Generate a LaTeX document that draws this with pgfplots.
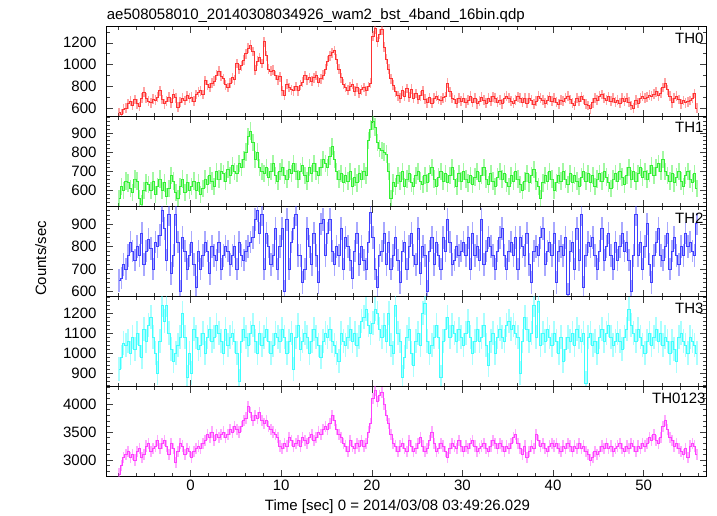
\documentclass[border=0pt]{standalone}
\usepackage{fontspec}
\setmainfont{Liberation Sans}
\usepackage{pgfplots}
\usepackage{pgfplotstable}
\pgfplotsset{compat=1.18}

\definecolor{cR}{RGB}{255,51,51}
\definecolor{cG}{RGB}{51,240,51}
\definecolor{cB}{RGB}{64,64,255}
\definecolor{cC}{RGB}{64,255,255}
\definecolor{cM}{RGB}{255,64,255}

% 0.25 s bins, first bin centre at -7.875 s
\pgfplotstableread[row sep=\\]{y\\
560\\545\\590\\600\\640\\665\\625\\680\\640\\615\\690\\745\\690\\665\\650\\685\\
675\\700\\760\\680\\640\\665\\700\\650\\730\\695\\610\\655\\690\\670\\715\\690\\
700\\665\\725\\745\\760\\725\\855\\815\\790\\830\\850\\905\\940\\895\\870\\815\\
790\\830\\880\\860\\1010\\960\\990\\1040\\1100\\1150\\1180\\1120\\950\\1030\\1065\\1010\\
1210\\1080\\960\\940\\950\\900\\860\\890\\760\\720\\820\\790\\770\\760\\800\\760\\
810\\840\\900\\860\\880\\850\\880\\900\\840\\870\\905\\960\\1030\\1080\\1110\\1130\\
1050\\960\\880\\820\\790\\765\\800\\820\\755\\790\\740\\770\\790\\760\\800\\830\\
1260\\1330\\1210\\1280\\1320\\1160\\1050\\960\\870\\810\\750\\715\\690\\760\\710\\780\\
700\\775\\690\\735\\680\\715\\760\\685\\650\\695\\645\\690\\710\\680\\670\\695\\
705\\830\\750\\690\\680\\645\\690\\665\\690\\650\\675\\710\\655\\690\\640\\665\\
700\\675\\645\\690\\665\\705\\690\\655\\675\\640\\690\\710\\690\\665\\645\\675\\
705\\690\\655\\690\\645\\690\\675\\635\\665\\710\\690\\675\\645\\675\\705\\665\\
690\\655\\635\\675\\665\\690\\710\\680\\645\\625\\690\\665\\705\\680\\635\\625\\
595\\650\\690\\675\\710\\725\\690\\675\\705\\665\\690\\655\\675\\645\\690\\665\\
690\\655\\625\\600\\675\\645\\690\\710\\690\\700\\720\\710\\730\\750\\715\\740\\
790\\830\\770\\710\\650\\690\\710\\680\\640\\670\\650\\660\\670\\690\\735\\600\\
}\thzero

\pgfplotstableread[row sep=\\]{y\\
560\\620\\600\\650\\640\\610\\590\\660\\650\\560\\530\\600\\640\\630\\600\\650\\
580\\620\\660\\600\\640\\570\\610\\680\\650\\590\\560\\620\\660\\590\\640\\600\\
620\\650\\600\\640\\580\\610\\660\\630\\680\\650\\620\\700\\660\\700\\690\\650\\
710\\680\\730\\700\\690\\740\\720\\760\\800\\880\\910\\850\\760\\800\\720\\700\\
690\\720\\670\\700\\740\\680\\650\\700\\720\\680\\660\\710\\690\\740\\700\\660\\
700\\730\\680\\650\\720\\690\\740\\700\\680\\720\\760\\740\\720\\780\\830\\760\\
700\\660\\690\\640\\680\\650\\700\\620\\670\\640\\690\\660\\700\\680\\860\\920\\
960\\930\\850\\820\\810\\800\\790\\700\\560\\640\\620\\680\\650\\700\\620\\660\\
690\\640\\620\\680\\700\\650\\630\\680\\640\\690\\720\\660\\620\\670\\700\\650\\
690\\640\\680\\720\\660\\620\\690\\650\\700\\660\\640\\680\\630\\670\\700\\650\\
680\\720\\660\\630\\690\\650\\620\\670\\700\\660\\690\\640\\620\\680\\650\\700\\
660\\630\\600\\650\\690\\640\\680\\710\\650\\620\\560\\640\\680\\650\\700\\660\\
600\\640\\680\\650\\700\\660\\630\\690\\640\\680\\650\\620\\670\\700\\650\\690\\
640\\680\\620\\660\\690\\650\\700\\670\\640\\610\\660\\690\\650\\700\\670\\630\\
680\\720\\660\\700\\650\\690\\720\\670\\700\\660\\690\\730\\680\\720\\740\\700\\
760\\700\\680\\650\\690\\640\\670\\700\\650\\620\\680\\700\\660\\640\\690\\610\\
}\thone

\pgfplotstableread[row sep=\\]{y\\
650\\660\\720\\700\\760\\820\\780\\740\\800\\760\\860\\720\\780\\830\\790\\700\\
820\\800\\850\\960\\880\\740\\940\\680\\760\\940\\820\\600\\840\\780\\700\\760\\
820\\720\\620\\780\\700\\760\\820\\780\\680\\800\\760\\740\\820\\700\\760\\800\\
780\\720\\760\\800\\700\\820\\760\\740\\780\\800\\820\\840\\920\\960\\860\\940\\
700\\860\\800\\720\\760\\880\\700\\800\\880\\600\\920\\700\\820\\880\\940\\760\\
760\\640\\700\\880\\800\\720\\860\\760\\640\\900\\920\\760\\860\\920\\780\\720\\
800\\760\\880\\700\\840\\800\\740\\660\\780\\860\\720\\800\\740\\700\\820\\950\\
840\\700\\620\\760\\780\\860\\720\\820\\700\\760\\840\\740\\640\\780\\820\\700\\
800\\860\\760\\720\\880\\680\\800\\760\\600\\780\\840\\720\\820\\760\\700\\840\\
780\\920\\820\\720\\740\\800\\760\\780\\820\\760\\840\\700\\860\\760\\800\\740\\
920\\720\\780\\840\\800\\760\\700\\780\\840\\880\\760\\700\\780\\820\\760\\840\\
700\\840\\800\\760\\860\\720\\640\\780\\800\\760\\840\\880\\720\\780\\820\\760\\
860\\640\\780\\800\\760\\840\\590\\780\\820\\700\\880\\740\\940\\620\\760\\820\\
800\\840\\760\\700\\780\\880\\740\\800\\860\\760\\700\\820\\740\\800\\860\\780\\
820\\740\\600\\760\\940\\760\\820\\700\\800\\900\\720\\640\\760\\820\\880\\760\\
740\\800\\860\\700\\780\\840\\760\\720\\800\\760\\860\\800\\820\\780\\760\\900\\
}\thtwo

\pgfplotstableread[row sep=\\]{y\\
920\\980\\1050\\1040\\1060\\1000\\1080\\1020\\1100\\1040\\980\\1120\\1060\\1140\\1180\\1080\\
1000\\900\\1060\\1240\\1160\\1240\\1100\\1020\\960\\1000\\1040\\1080\\1200\\1080\\880\\1000\\
900\\1120\\1080\\1020\\1040\\1100\\1000\\1080\\1120\\1060\\1080\\1140\\1100\\1060\\1000\\1120\\
1040\\1080\\1100\\1060\\1000\\860\\1060\\1120\\1080\\1040\\1100\\1140\\1060\\1000\\1100\\1040\\
1080\\1120\\1060\\1000\\1040\\1100\\1080\\1060\\1120\\1080\\1000\\1060\\1100\\920\\1080\\1140\\
1020\\1060\\1100\\1080\\1000\\1060\\1120\\1080\\1040\\980\\1060\\1100\\1080\\1120\\1060\\1040\\
1000\\960\\1100\\1060\\1040\\1080\\1120\\1060\\1100\\1040\\1080\\1160\\1180\\1220\\1140\\1100\\
1150\\1220\\1200\\1120\\1080\\1140\\1060\\1200\\1040\\1000\\1240\\1100\\1060\\880\\980\\1080\\
1120\\1000\\940\\1060\\1100\\1040\\1200\\1250\\1060\\1000\\1040\\1080\\1140\\1080\\880\\1060\\
1120\\1180\\1080\\1140\\1100\\1060\\1120\\1080\\1040\\1100\\1160\\1080\\1000\\1060\\1120\\1060\\
1080\\1140\\1040\\940\\1060\\1100\\1000\\1080\\1120\\1080\\1060\\1140\\1160\\1120\\1140\\1100\\
1080\\900\\1060\\1180\\1120\\1060\\1100\\1240\\1080\\1260\\1040\\1100\\1060\\1120\\1080\\1040\\
1100\\1060\\1000\\1080\\960\\1020\\1080\\1060\\1100\\1040\\1120\\1080\\1060\\1100\\850\\1080\\
1100\\1040\\1060\\1000\\1080\\1120\\1060\\1100\\1140\\1080\\1040\\1060\\1100\\1060\\1020\\1080\\
1120\\1220\\1140\\1100\\1060\\1120\\1080\\1040\\1000\\1060\\1100\\1040\\1080\\1120\\1060\\1100\\
1040\\1080\\1060\\1000\\1060\\1020\\960\\1080\\1100\\1060\\1040\\1000\\1080\\1060\\1040\\1000\\
}\ththree

\pgfplotstableread[row sep=\\]{y\\
2750\\2900\\3050\\3100\\3150\\3050\\3100\\3000\\3150\\3200\\3050\\3100\\3250\\3300\\3150\\3200\\
3250\\3350\\3200\\3300\\3350\\3250\\3100\\3300\\3200\\2950\\3150\\3300\\3250\\3100\\3200\\3150\\
3050\\3150\\3200\\3250\\3200\\3300\\3350\\3450\\3400\\3500\\3350\\3450\\3400\\3450\\3500\\3400\\
3450\\3550\\3500\\3600\\3550\\3500\\3600\\3700\\3750\\3950\\3850\\3700\\3800\\3750\\3850\\3700\\
3650\\3700\\3600\\3550\\3500\\3450\\3400\\3250\\3200\\3300\\3250\\3400\\3350\\3250\\3300\\3350\\
3250\\3400\\3350\\3300\\3400\\3450\\3350\\3400\\3500\\3450\\3550\\3600\\3550\\3650\\3800\\3700\\
3550\\3450\\3400\\3300\\3250\\3150\\3350\\3250\\3200\\3300\\3250\\3350\\3250\\3300\\3500\\3650\\
4100\\4250\\4050\\4150\\4200\\4000\\3800\\3650\\3450\\3300\\3250\\3150\\3250\\3300\\3200\\3150\\
3350\\3250\\3150\\3200\\3300\\3400\\3250\\3150\\3200\\3350\\3500\\3300\\3150\\3200\\3300\\3250\\
3150\\3050\\3200\\3300\\3250\\3200\\3350\\3250\\3150\\3250\\3200\\3300\\3350\\3250\\3150\\3200\\
3250\\3300\\3200\\3150\\3250\\3350\\3300\\3200\\3300\\3250\\3150\\3250\\3200\\3300\\3400\\3450\\
3300\\3200\\3100\\3250\\3050\\3150\\3250\\3200\\3450\\3350\\3250\\3300\\3200\\3150\\3250\\3300\\
3250\\3300\\3200\\3150\\3250\\3200\\3300\\3250\\3150\\3250\\3200\\3300\\3200\\3250\\3150\\3100\\
3000\\3050\\3150\\3100\\3150\\3250\\3200\\3300\\3200\\3250\\3150\\3200\\3250\\3300\\3200\\3150\\
3250\\3200\\3300\\3250\\3150\\3250\\3200\\3300\\3250\\3300\\3400\\3350\\3450\\3350\\3300\\3400\\
3600\\3700\\3550\\3400\\3350\\3250\\3300\\3200\\3150\\3100\\3200\\3050\\3250\\3300\\3250\\3100\\
}\thall

\newcommand{\lbl}{\fontsize{15}{18}\selectfont}
\tikzset{panel/.style={anchor=north east, inner sep=0pt, font=\lbl}}

\pgfplotsset{
  lc/.style={
    width=600pt, height=90pt, scale only axis,
    anchor=south west,
    xmin=-9.24, xmax=56.95,
    xtick={0,10,...,50}, minor xtick={-8,-6,...,56},
    tick align=inside, tick pos=both,
    major tick length=6.7pt, minor tick length=3.3pt,
    every tick/.style={black!75, line width=0.5pt},
    axis line style={line width=0.7pt},
    tick label style={font=\lbl},
    yticklabel style={xshift=-6.7pt},
    /pgf/number format/assume math mode=true,
    /pgf/number format/set thousands separator={},
  },
  notx/.style={xticklabels={}},
  lcurve/.style n args={2}{const plot mark mid, mark=none, line width=0.8pt, color=#1,
    error bars/.cd, y dir=both, y fixed=#2,
    error bar style={color=#1, line width=1.6pt, opacity=0.45}, error mark=none},
}

\begin{document}
\begin{tikzpicture}
\begin{axis}[lc, notx, at={(0pt,-90pt)},
  ymin=522, ymax=1348, ytick={600,800,1000,1200}, minor ytick={600,700,...,1300}]
  \addplot[lcurve={cR}{45}] table[x expr=\coordindex*0.25-7.875, y=y]{\thzero};
  \node[panel] at ([xshift=-3pt,yshift=-5.7pt]rel axis cs:1,1) {TH0};
\end{axis}
\begin{axis}[lc, notx, at={(0pt,-180pt)},
  ymin=516, ymax=984, ytick={600,700,800,900}, minor ytick={520,540,...,980}]
  \addplot[lcurve={cG}{45}] table[x expr=\coordindex*0.25-7.875, y=y]{\thone};
  \node[panel] at ([xshift=-3pt,yshift=-5.7pt]rel axis cs:1,1) {TH1};
\end{axis}
\begin{axis}[lc, notx, at={(0pt,-270pt)},
  ymin=578, ymax=976, ytick={600,700,800,900}, minor ytick={580,600,...,960}]
  \addplot[lcurve={cB}{50}] table[x expr=\coordindex*0.25-7.875, y=y]{\thtwo};
  \node[panel] at ([xshift=-3pt,yshift=-5.7pt]rel axis cs:1,1) {TH2};
\end{axis}
\begin{axis}[lc, notx, at={(0pt,-360pt)},
  ymin=833, ymax=1283, ytick={900,1000,1100,1200}, minor ytick={840,860,...,1280}]
  \addplot[lcurve={cC}{60}] table[x expr=\coordindex*0.25-7.875, y=y]{\ththree};
  \node[panel] at ([xshift=-3pt,yshift=-5.7pt]rel axis cs:1,1) {TH3};
\end{axis}
\begin{axis}[lc, at={(0pt,-450pt)},
  ymin=2702, ymax=4309, ytick={3000,3500,4000}, minor ytick={2800,2900,...,4300}]
  \addplot[lcurve={cM}{100}] table[x expr=\coordindex*0.25-7.875, y=y]{\thall};
  \node[panel] at ([xshift=-1pt,yshift=-5.7pt]rel axis cs:1,1) {TH0123};
\end{axis}
\node[anchor=base west, inner sep=0pt, font=\lbl] at (0pt,7.3pt)
  {ae508058010\_20140308034926\_wam2\_bst\_4band\_16bin.qdp};
\node[rotate=90, inner sep=0pt, font=\lbl] at (-65.9pt,-231.7pt) {Counts/sec};
\node[anchor=base, inner sep=0pt, font=\lbl] at (290.8pt,-483.5pt)
  {Time [sec] 0 = 2014/03/08 03:49:26.029};
\pgfresetboundingbox
\path[use as bounding box] (-106.7pt,-489.3pt) rectangle (610.3pt,26.7pt);
\end{tikzpicture}
\end{document}
